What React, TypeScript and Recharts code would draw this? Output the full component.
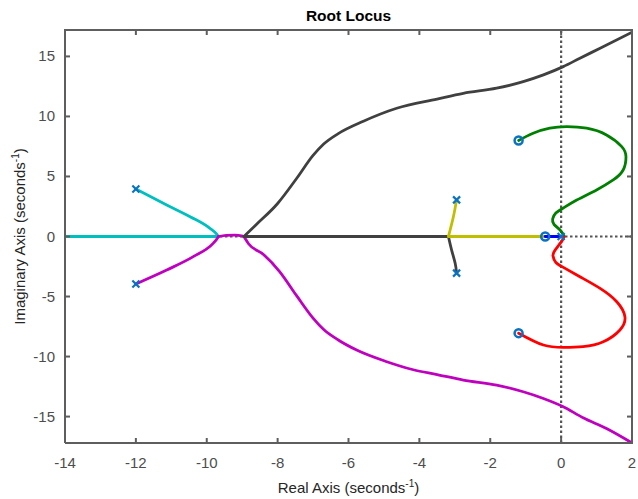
import React from 'react';
import { ComposedChart, Line, Scatter, XAxis, YAxis, ReferenceLine } from 'recharts';

const xTicks = [-14, -12, -10, -8, -6, -4, -2, 0, 2];
const yTicks = [-15, -10, -5, 0, 5, 10, 15];
const xDomain = [-14, 2];
const yDomain = [-17.2, 17.2];

const poles = [
  { x: -12, y: 3.95 },
  { x: -12, y: -3.95 },
  { x: -2.95, y: 3.05 },
  { x: -2.95, y: -3.05 },
];
const originPole = [{ x: 0, y: 0 }];
const zeros = [
  { x: -1.2, y: 8.0 },
  { x: -1.2, y: -8.05 },
  { x: -0.45, y: 0 },
];

const cyanBranch = [
  { x: -12, y: 3.95 }, { x: -11.13, y: 2.63 }, { x: -10.47, y: 1.65 },
  { x: -9.91, y: 0.68 }, { x: -9.72, y: 0.2 }, { x: -9.67, y: 0 },
];
const cyanReal = [{ x: -9.67, y: 0 }, { x: -14, y: 0 }];

const magentaBranch = [
  { x: -12, y: -3.95 }, { x: -11.13, y: -2.79 }, { x: -10.38, y: -1.68 },
  { x: -9.82, y: -0.57 }, { x: -9.7, y: -0.15 }, { x: -9.67, y: 0 },
];
const magentaReal = [
  { x: -9.67, y: 0 }, { x: -9.45, y: 0.1 }, { x: -9.2, y: 0.12 }, { x: -9.02, y: 0.06 }, { x: -8.95, y: 0 },
];
const magentaAsym = [
  { x: -8.95, y: 0 }, { x: -8.82, y: -0.6 }, { x: -8.4, y: -1.5 }, { x: -7.95, y: -2.9 },
  { x: -7.46, y: -4.95 }, { x: -7.0, y: -6.8 }, { x: -6.7, y: -7.75 }, { x: -6.3, y: -8.6 },
  { x: -5.77, y: -9.46 }, { x: -4.92, y: -10.43 }, { x: -4.17, y: -11.1 }, { x: -3.5, y: -11.5 },
  { x: -2.76, y: -11.96 }, { x: -1.82, y: -12.38 }, { x: -1.07, y: -12.93 }, { x: -0.5, y: -13.49 },
  { x: 0.06, y: -14.18 }, { x: 0.62, y: -15.1 }, { x: 1.28, y: -16.0 }, { x: 2.0, y: -17.2 },
];

const blackAsym = [
  { x: -8.95, y: 0 }, { x: -8.6, y: 1.0 }, { x: -8.0, y: 2.75 }, { x: -7.46, y: 4.85 },
  { x: -7.0, y: 6.75 }, { x: -6.7, y: 7.7 }, { x: -6.3, y: 8.55 }, { x: -5.58, y: 9.6 },
  { x: -4.64, y: 10.68 }, { x: -3.5, y: 11.45 }, { x: -2.76, y: 11.93 }, { x: -1.82, y: 12.35 },
  { x: -1.07, y: 12.9 }, { x: -0.5, y: 13.46 }, { x: 0.06, y: 14.15 }, { x: 0.53, y: 14.85 },
  { x: 1.1, y: 15.68 }, { x: 2.04, y: 17.07 },
];
const blackReal = [{ x: -8.95, y: 0 }, { x: -3.18, y: 0 }];
const blackBranch = [
  { x: -3.18, y: 0 }, { x: -3.09, y: -1.13 }, { x: -2.99, y: -2.23 }, { x: -2.95, y: -3.05 },
];

const yellowBranch = [
  { x: -2.95, y: 3.05 }, { x: -3.04, y: 1.65 }, { x: -3.18, y: 0 },
];
const yellowReal = [{ x: -3.18, y: 0 }, { x: -0.45, y: 0 }];
const blueReal = [{ x: -0.45, y: 0 }, { x: 0, y: 0 }];

const greenBranch = [
  { x: 0.08, y: 0.05 }, { x: -0.03, y: 0.54 }, { x: -0.2, y: 1.0 }, { x: -0.24, y: 1.45 },
  { x: -0.15, y: 1.95 }, { x: 0.05, y: 2.35 }, { x: 0.44, y: 3.04 }, { x: 1.0, y: 3.88 },
  { x: 1.47, y: 4.71 }, { x: 1.75, y: 5.54 }, { x: 1.83, y: 6.65 }, { x: 1.71, y: 7.49 },
  { x: 1.28, y: 8.46 }, { x: 0.72, y: 9.02 }, { x: 0.15, y: 9.15 }, { x: -0.32, y: 9.02 },
  { x: -0.79, y: 8.6 }, { x: -1.2, y: 8.0 },
];
const redBranch = [
  { x: 0.08, y: -0.05 }, { x: 0.01, y: -0.43 }, { x: -0.17, y: -1.13 }, { x: -0.23, y: -1.6 },
  { x: -0.15, y: -2.15 }, { x: 0.05, y: -2.55 }, { x: 0.53, y: -3.35 }, { x: 1.1, y: -4.32 },
  { x: 1.57, y: -5.43 }, { x: 1.8, y: -6.68 }, { x: 1.66, y: -7.79 }, { x: 1.19, y: -8.77 },
  { x: 0.62, y: -9.18 }, { x: 0.06, y: -9.24 }, { x: -0.5, y: -9.04 }, { x: -1.2, y: -8.05 },
];

const FONT = '"Liberation Sans", Arial, Helvetica, sans-serif';
const AXIS = '#5e5e5e';
const TICKTXT = '#4d4d4d';
const MARK = '#0a72c2';
const LW = 2.8;

const W = 638;
const H = 499;
const MARGIN = { top: 30, right: 6, bottom: 26, left: 15 };
const XAXIS_H = 30;
const YAXIS_W = 50;
const PLOT_TOP = MARGIN.top;
const PLOT_RIGHT = W - MARGIN.right;
const PLOT_LEFT = MARGIN.left + YAXIS_W;
const PLOT_BOTTOM = H - MARGIN.bottom - XAXIS_H;
const TICK = 5;

const px = (v: number) => PLOT_LEFT + ((v - xDomain[0]) / (xDomain[1] - xDomain[0])) * (PLOT_RIGHT - PLOT_LEFT);
const py = (v: number) => PLOT_BOTTOM - ((v - yDomain[0]) / (yDomain[1] - yDomain[0])) * (PLOT_BOTTOM - PLOT_TOP);

const BottomTick = (p: any) => (
  <g>
    <line x1={p.x} y1={p.y} x2={p.x} y2={p.y - TICK} stroke={AXIS} strokeWidth={2} />
    <text x={p.x} y={p.y + 25} textAnchor="middle" fontSize={15} fontFamily={FONT} fill={TICKTXT}>
      {p.payload.value}
    </text>
  </g>
);
const LeftTick = (p: any) => (
  <g>
    <line x1={p.x} y1={p.y} x2={p.x + TICK} y2={p.y} stroke={AXIS} strokeWidth={2} />
    <text x={p.x - 10} y={p.y + 5} textAnchor="end" fontSize={15} fontFamily={FONT} fill={TICKTXT}>
      {p.payload.value}
    </text>
  </g>
);

const XLabel = (p: any) => {
  const vb = p.viewBox || { x: PLOT_LEFT, y: PLOT_BOTTOM, width: PLOT_RIGHT - PLOT_LEFT, height: XAXIS_H };
  return (
    <text x={vb.x + vb.width / 2} y={493} textAnchor="middle" fontSize={15} fontFamily={FONT} fill="#262626">
      Real Axis (seconds<tspan dy={-6} fontSize={10}>-1</tspan><tspan dy={6}>)</tspan>
    </text>
  );
};
const YLabel = () => {
  const cy = (PLOT_TOP + PLOT_BOTTOM) / 2;
  const cx = (PLOT_LEFT + PLOT_RIGHT) / 2;
  return (
    <g>
      <text x={cx} y={21} textAnchor="middle" fontSize={15.5} fontWeight="bold" fontFamily={FONT} fill="#000">
        Root Locus
      </text>
      <text x={25} y={cy} transform={`rotate(-90, 25, ${cy})`} textAnchor="middle" fontSize={15} fontFamily={FONT} fill="#262626">
        Imaginary Axis (seconds<tspan dy={-6} fontSize={10}>-1</tspan><tspan dy={6}>)</tspan>
      </text>
    </g>
  );
};

const PoleShape = (p: any) => {
  const { cx, cy } = p;
  const s = 3.5;
  return (
    <g>
      <line x1={cx - s} y1={cy - s} x2={cx + s} y2={cy + s} stroke={MARK} strokeWidth={2.2} />
      <line x1={cx - s} y1={cy + s} x2={cx + s} y2={cy - s} stroke={MARK} strokeWidth={2.2} />
    </g>
  );
};
const ZeroShape = (p: any) => (
  <circle cx={p.cx} cy={p.cy} r={4} fill="none" stroke={MARK} strokeWidth={2.5} />
);

const line = (data: any[], color: string, type: any = 'natural') => (
  <Line
    data={data}
    dataKey="y"
    type={type}
    stroke={color}
    strokeWidth={LW}
    dot={false}
    activeDot={false}
    isAnimationActive={false}
    strokeLinecap="round"
    strokeLinejoin="round"
  />
);

const Frame = () => (
  <>
    <div
      style={{
        position: 'absolute',
        left: PLOT_LEFT - 1,
        top: PLOT_TOP - 1,
        width: PLOT_RIGHT - PLOT_LEFT,
        height: PLOT_BOTTOM - PLOT_TOP,
        borderTop: `2px solid ${AXIS}`,
        borderRight: `2px solid ${AXIS}`,
        pointerEvents: 'none',
      }}
    />
    <svg width={W} height={H} style={{ position: 'absolute', left: 0, top: 0, pointerEvents: 'none' }}>
      {xTicks.map((t) => (
        <rect key={`t${t}`} x={px(t) - 1} y={PLOT_TOP} width={2} height={TICK} fill={AXIS} />
      ))}
      {yTicks.map((t) => (
        <rect key={`r${t}`} x={PLOT_RIGHT - TICK} y={py(t) - 1} width={TICK} height={2} fill={AXIS} />
      ))}
    </svg>
  </>
);

export default function App() {
  return (
    <div style={{ position: 'absolute', left: 0, top: 0, width: W, height: H, background: '#fff' }}>
      <ComposedChart width={W} height={H} margin={MARGIN}>
        <XAxis
          dataKey="x"
          type="number"
          domain={xDomain}
          ticks={xTicks}
          allowDataOverflow
          height={XAXIS_H}
          tickSize={0}
          tickMargin={0}
          tickLine={false}
          tick={<BottomTick />}
          axisLine={{ stroke: AXIS, strokeWidth: 2 }}
          interval={0}
          label={{ content: <XLabel /> }}
        />
        <YAxis
          dataKey="y"
          type="number"
          domain={yDomain}
          ticks={yTicks}
          allowDataOverflow
          width={YAXIS_W}
          tickSize={0}
          tickMargin={0}
          tickLine={false}
          tick={<LeftTick />}
          axisLine={{ stroke: AXIS, strokeWidth: 2 }}
          interval={0}
          label={{ content: <YLabel /> }}
        />
        <ReferenceLine x={0} stroke="#555" strokeWidth={2.2} strokeDasharray="2.5 2.5" />
        <ReferenceLine y={0} stroke="#555" strokeWidth={2.2} strokeDasharray="2.5 2.5" />
        {line(cyanReal, '#00bfbf', 'linear')}
        {line(cyanBranch, '#00bfbf', 'monotone')}
        {line(magentaBranch, '#bf00bf', 'monotone')}
        {line(magentaReal, '#bf00bf', 'monotone')}
        {line(magentaAsym, '#bf00bf', 'monotone')}
        {line(blackReal, '#404040', 'linear')}
        {line(blackAsym, '#404040', 'monotone')}
        {line(blackBranch, '#404040', 'natural')}
        {line(yellowBranch, '#bfbf00', 'natural')}
        {line(yellowReal, '#bfbf00', 'linear')}
        {line(blueReal, '#0000ff', 'linear')}
        <Scatter data={originPole} dataKey="y" shape={<PoleShape />} isAnimationActive={false} />
        {line(greenBranch, '#008000', 'natural')}
        {line(redBranch, '#ff0000', 'natural')}
        <Scatter data={poles} dataKey="y" shape={<PoleShape />} isAnimationActive={false} />
        <Scatter data={zeros} dataKey="y" shape={<ZeroShape />} isAnimationActive={false} />
      </ComposedChart>
      <Frame />
    </div>
  );
}
